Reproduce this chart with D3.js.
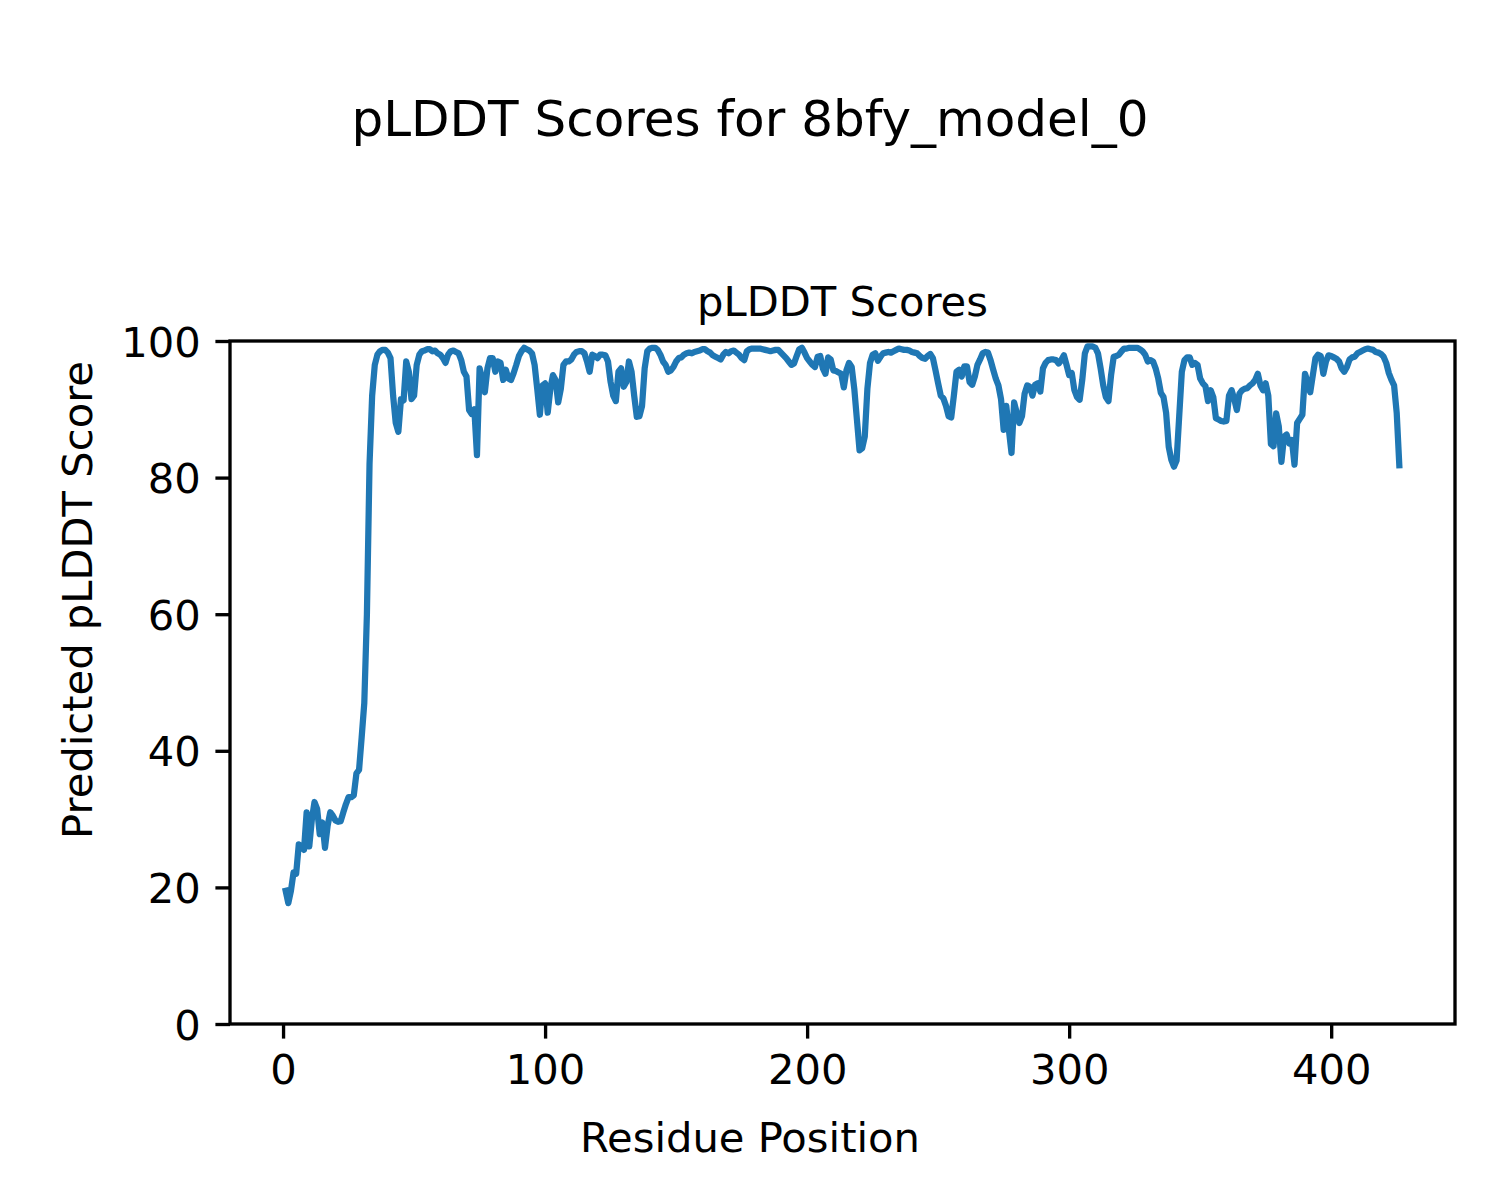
<!DOCTYPE html>
<html>
<head>
<meta charset="utf-8">
<script src="https://cdn.jsdelivr.net/npm/d3@7"></script>
<style>
  html, body { margin: 0; padding: 0; background: #ffffff; }
  svg { display: block; }
  text { font-family: "DejaVu Sans", sans-serif; fill: #000; }
</style>
</head>
<body>
<svg id="chart" width="1500" height="1200"></svg>
<script>
// ---- Data ----
const figureTitle = "pLDDT Scores for 8bfy_model_0";
const axesTitle = "pLDDT Scores";
const xLabel = "Residue Position";
const yLabel = "Predicted pLDDT Score";
const xTicks = [0, 100, 200, 300, 400];
const yTicks = [0, 20, 40, 60, 80, 100];
const residueStart = 1;
const plddt = [
  19.5, 17.7, 19.5, 22.2, 22.0, 26.3, 26.0, 25.5, 31.0, 26.0,
  30.0, 32.5, 31.5, 27.8, 29.5, 25.8, 29.0, 31.0, 30.5, 29.8,
  29.6, 29.7, 31.0, 32.2, 33.2, 33.2, 33.5, 36.7, 37.2, 42.0,
  47.0, 60.0, 82.0, 92.0, 96.5, 98.0, 98.5, 98.7, 98.7, 98.3,
  97.5, 92.0, 88.0, 86.7, 91.5, 91.3, 97.0, 95.5, 91.5, 92.0,
  96.5, 98.0, 98.5, 98.6, 98.8, 98.8, 98.5, 98.6, 98.2, 98.0,
  97.5, 96.8, 98.0, 98.5, 98.6, 98.4, 98.2, 97.2, 95.5, 94.8,
  89.9, 89.3, 90.0, 83.3, 96.0, 94.5, 92.5, 96.0, 97.5, 97.5,
  95.5, 97.0, 96.8, 94.3, 95.8, 94.5, 94.3, 95.3, 96.5, 97.8,
  98.5, 99.0, 98.8, 98.6, 98.2, 96.5, 93.0, 89.2, 93.5, 93.8,
  89.5, 93.0, 95.0, 94.3, 91.0, 93.0, 96.5, 97.0, 97.0, 97.3,
  98.0, 98.4, 98.5, 98.5, 98.2, 97.0, 95.5, 98.0, 97.8, 97.5,
  98.0, 98.0, 97.9, 97.0, 94.0, 92.0, 91.2, 95.5, 96.0, 93.3,
  94.0, 97.0, 95.5, 92.0, 88.9, 89.0, 90.5, 96.0, 98.5, 98.9,
  99.0, 99.0, 98.7, 98.0, 97.0, 96.5, 95.5, 95.7, 96.2, 97.0,
  97.5, 97.6, 98.0, 98.2, 98.3, 98.2, 98.4, 98.5, 98.6, 98.8,
  98.8, 98.5, 98.3, 97.9, 97.7, 97.5, 97.3, 98.0, 98.4, 98.2,
  98.5, 98.6, 98.3, 98.0, 97.5, 97.2, 98.5, 98.8, 98.9, 98.9,
  98.9, 98.9, 98.8, 98.7, 98.6, 98.5, 98.6, 98.7, 98.7, 98.3,
  97.9, 97.5, 97.0, 96.5, 96.7, 97.8, 98.8, 99.0, 98.3, 97.5,
  97.0, 96.5, 96.2, 97.7, 97.8, 96.0, 95.2, 97.6, 97.3, 95.7,
  95.6, 95.4, 95.2, 93.2, 95.7, 96.8, 96.2, 93.0, 88.5, 84.0,
  84.3, 86.0, 93.0, 96.8, 98.0, 98.2, 97.1, 97.7, 98.2, 98.3,
  98.4, 98.3, 98.5, 98.7, 98.9, 98.8, 98.7, 98.7, 98.6, 98.4,
  98.3, 98.2, 97.8, 97.5, 97.4, 97.8, 98.1, 97.5, 95.7, 93.8,
  92.0, 91.6, 90.5, 89.0, 88.8, 92.0, 95.5, 95.8, 94.8, 96.3,
  96.3, 94.0, 93.6, 94.8, 96.5, 97.3, 98.2, 98.4, 98.3, 97.2,
  95.8, 94.5, 93.5, 91.5, 87.0, 90.5, 87.0, 83.6, 91.0, 89.5,
  88.0, 89.0, 92.3, 93.5, 93.3, 92.0, 93.6, 93.8, 92.6, 96.0,
  96.8, 97.2, 97.3, 97.3, 97.2, 96.7, 97.2, 97.9, 96.5, 95.0,
  95.3, 92.8, 91.8, 91.4, 94.3, 98.2, 99.2, 99.2, 99.2, 99.0,
  98.2, 96.0, 93.5, 91.8, 91.2, 95.0, 97.7, 97.8, 98.0, 98.5,
  98.9, 98.9, 99.0, 99.0, 99.0, 99.0, 98.8, 98.5, 98.0, 97.0,
  97.2, 97.0, 96.0, 94.5, 92.4, 91.8, 89.5, 84.5, 82.6, 81.6,
  82.5, 89.0, 95.5, 97.2, 97.6, 97.6, 96.5, 96.8, 96.5, 94.5,
  93.8, 93.4, 91.2, 92.8, 91.8, 88.7, 88.5, 88.3, 88.2, 88.3,
  92.0, 92.8, 91.5, 89.9, 92.3, 92.8, 93.0, 93.1, 93.5, 93.8,
  94.3, 95.2, 93.5, 92.8, 93.8, 92.0, 84.9, 84.6, 89.4, 87.5,
  82.3, 86.0, 86.3, 85.0, 85.5, 81.9, 88.0, 88.6, 89.2, 95.2,
  94.0, 92.5, 95.0, 97.5, 98.0, 97.8, 95.2, 97.0, 97.9, 97.8,
  97.6, 97.4, 97.0, 96.0, 95.5, 96.2, 97.3, 97.6, 97.7, 98.2,
  98.4, 98.6, 98.8, 98.9, 98.8, 98.7, 98.4, 98.3, 98.1, 97.7,
  96.8, 95.3, 94.3, 93.5, 89.5, 81.8
];

// ---- Layout ----
const svg = d3.select("#chart");
const W = 1500, H = 1200;
const plot = { left: 230, right: 1455, top: 341, bottom: 1024 };
const fs = 41.67;
const lw = 3.33;
const tickLen = 14.6;
const tickPad = 14.6;

const n = plddt.length;
const xMin = residueStart, xMax = residueStart + n - 1;
const margin = (xMax - xMin) * 0.05;

const x = d3.scaleLinear().domain([xMin - margin, xMax + margin]).range([plot.left, plot.right]);
const y = d3.scaleLinear().domain([0, 100]).range([plot.bottom, plot.top]);

svg.append("rect").attr("width", W).attr("height", H).attr("fill", "#fff");

// line
const line = d3.line()
  .x((d, i) => x(residueStart + i))
  .y(d => y(d));

svg.append("path")
  .datum(plddt)
  .attr("d", line)
  .attr("fill", "none")
  .attr("stroke", "#1f77b4")
  .attr("stroke-width", 6.25)
  .attr("stroke-linejoin", "round")
  .attr("stroke-linecap", "square");

// axes via d3
const xAxis = d3.axisBottom(x).tickValues(xTicks).tickSize(tickLen).tickPadding(tickPad).tickFormat(d3.format("d"));
const yAxis = d3.axisLeft(y).tickValues(yTicks).tickSize(tickLen).tickPadding(tickPad).tickFormat(d3.format("d"));

const gx = svg.append("g").attr("transform", `translate(0,${plot.bottom})`).call(xAxis);
const gy = svg.append("g").attr("transform", `translate(${plot.left},0)`).call(yAxis);

[gx, gy].forEach(g => {
  g.select(".domain").remove();
  g.selectAll(".tick line").attr("stroke", "#000").attr("stroke-width", lw);
  g.selectAll(".tick text")
    .attr("fill", "#000")
    .style("font-family", "'DejaVu Sans', sans-serif")
    .style("font-size", fs + "px");
});
gx.selectAll(".tick text").attr("dy", null).attr("y", tickLen + tickPad + 0.76 * fs - 0.5);
gy.selectAll(".tick text").attr("dy", "0.36em");

// frame (spines)
svg.append("rect")
  .attr("x", plot.left).attr("y", plot.top)
  .attr("width", plot.right - plot.left).attr("height", plot.bottom - plot.top)
  .attr("fill", "none").attr("stroke", "#000").attr("stroke-width", lw);

// titles
svg.append("text")
  .attr("x", 750).attr("y", 136)
  .attr("text-anchor", "middle")
  .style("font-size", "50px")
  .text(figureTitle);

svg.append("text")
  .attr("x", (plot.left + plot.right) / 2).attr("y", 316)
  .attr("text-anchor", "middle")
  .style("font-size", fs + "px")
  .text(axesTitle);

svg.append("text")
  .attr("x", 750).attr("y", 1152)
  .attr("text-anchor", "middle")
  .style("font-size", fs + "px")
  .text(xLabel);

svg.append("text")
  .attr("transform", `translate(92,600) rotate(-90)`)
  .attr("text-anchor", "middle")
  .style("font-size", fs + "px")
  .text(yLabel);
</script>
</body>
</html>
